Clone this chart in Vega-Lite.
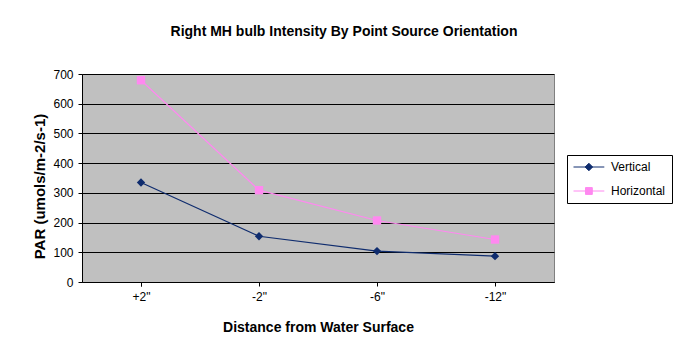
{
  "$schema": "https://vega.github.io/schema/vega-lite/v6.json",
  "width": 472,
  "height": 208,
  "autosize": {"type": "none"},
  "padding": {"left": 82, "top": 74, "right": 134, "bottom": 82},
  "background": "#FFFFFF",
  "title": {
    "text": "Right MH bulb Intensity By Point Source Orientation",
    "font": "Liberation Sans",
    "fontSize": 14,
    "fontWeight": "bold",
    "color": "#000000",
    "anchor": "middle",
    "offset": 29,
    "dx": 26
  },
  "config": {
    "view": {"fill": "#C0C0C0", "stroke": "#808080", "strokeWidth": 1},
    "font": "Liberation Sans"
  },
  "data": {
    "values": [
      {"distance": "+2\"", "orientation": "Vertical", "par": 335},
      {"distance": "-2\"", "orientation": "Vertical", "par": 154},
      {"distance": "-6\"", "orientation": "Vertical", "par": 104},
      {"distance": "-12\"", "orientation": "Vertical", "par": 87},
      {"distance": "+2\"", "orientation": "Horizontal", "par": 679},
      {"distance": "-2\"", "orientation": "Horizontal", "par": 309},
      {"distance": "-6\"", "orientation": "Horizontal", "par": 207},
      {"distance": "-12\"", "orientation": "Horizontal", "par": 143}
    ]
  },
  "resolve": {"axis": {"x": "independent"}},
  "encoding": {
    "y": {
      "field": "par",
      "type": "quantitative",
      "scale": {"domain": [0, 700], "nice": false},
      "axis": {
        "title": "PAR (umols/m-2/s-1)",
        "titleFont": "Liberation Sans",
        "titleFontSize": 15,
        "titleFontWeight": "bold",
        "titleColor": "#000000",
        "titlePadding": 5,
        "titleY": 112,
        "values": [0, 100, 200, 300, 400, 500, 600, 700],
        "labelFont": "Liberation Sans",
        "labelFontSize": 12,
        "labelColor": "#000000",
        "labelPadding": 5,
        "labelOverlap": false,
        "tickSize": 4,
        "tickColor": "#000000",
        "domainColor": "#000000",
        "grid": true,
        "gridColor": "#000000",
        "gridOpacity": 1,
        "gridWidth": 1
      }
    },
    "color": {
      "field": "orientation",
      "type": "nominal",
      "scale": {"domain": ["Vertical", "Horizontal"], "range": ["#0F2C6E", "#FF88F0"]},
      "legend": {
        "title": null,
        "orient": "none",
        "legendX": 485,
        "legendY": 81,
        "direction": "vertical",
        "fillColor": "#FFFFFF",
        "strokeColor": "#000000",
        "padding": 6,
        "labelFont": "Liberation Sans",
        "labelFontSize": 12,
        "labelColor": "#000000",
        "labelOffset": 26,
        "rowPadding": 12,
        "symbolSize": 121,
        "symbolStrokeWidth": 1,
        "symbolType": "M-1,0L4.6,0",
        "encode": {
          "symbols": {
            "update": {
              "shape": {"signal": "datum.value == 'Vertical' ? 'M-1,0L4.6,0M1.8,-0.68L2.48,0L1.8,0.68L1.12,0Z' : 'M-1,0L4.6,0M1.18,-0.62L2.42,-0.62L2.42,0.62L1.18,0.62Z'"},
              "fill": {"signal": "datum.value == 'Vertical' ? '#0F2C6E' : '#FF88F0'"},
              "fillOpacity": {"value": 1}
            }
          }
        }
      }
    }
  },
  "layer": [
    {
      "mark": {"type": "line", "strokeWidth": 1.2},
      "encoding": {
        "x": {
          "field": "distance",
          "type": "nominal",
          "sort": ["+2\"", "-2\"", "-6\"", "-12\""],
          "scale": {"paddingInner": 0, "paddingOuter": 0},
          "axis": {
            "orient": "bottom",
            "title": "Distance from Water Surface",
            "titleFont": "Liberation Sans",
            "titleFontSize": 14,
            "titleFontWeight": "bold",
            "titleColor": "#000000",
            "titlePadding": 34,
            "labels": false,
            "bandPosition": 1,
            "tickExtra": true,
            "ticks": true,
            "tickSize": 4,
            "tickColor": "#000000",
            "domainColor": "#000000",
            "grid": false
          }
        }
      }
    },
    {
      "mark": {"type": "point", "filled": true, "opacity": 1},
      "encoding": {
        "x": {
          "field": "distance",
          "type": "nominal",
          "sort": ["+2\"", "-2\"", "-6\"", "-12\""],
          "axis": {
            "orient": "bottom",
            "title": null,
            "labelFont": "Liberation Sans",
            "labelFontSize": 12,
            "labelColor": "#000000",
            "labelAngle": 0,
            "labelPadding": 9,
            "ticks": false,
            "domain": false,
            "grid": false
          }
        },
        "shape": {
          "condition": {"test": "datum.orientation == 'Vertical'", "value": "diamond"},
          "value": "square"
        },
        "size": {"value": 70}
      }
    }
  ]
}
